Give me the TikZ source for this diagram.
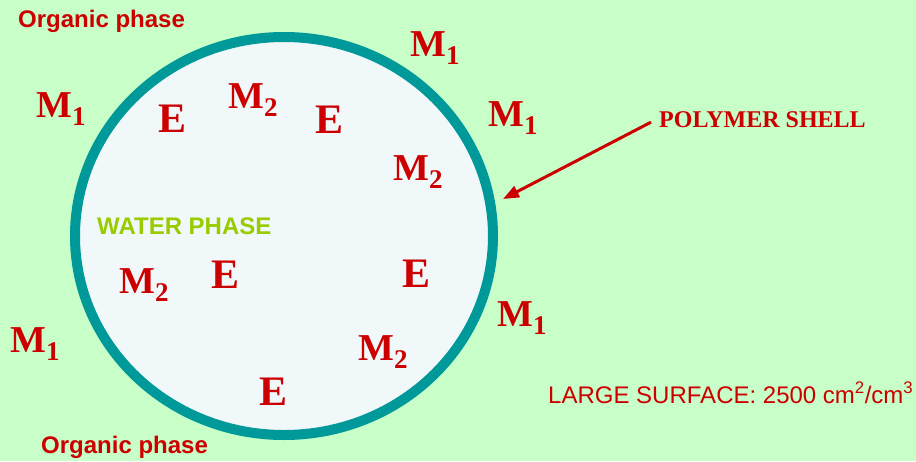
\documentclass[tikz,border=0pt]{standalone}
\usepackage{fontspec}
\setmainfont{Liberation Serif}
\setsansfont{Liberation Sans}
\usepackage{xcolor}
\usepackage{tikz}
\usetikzlibrary{arrows.meta}
\definecolor{sfondo}{HTML}{C8FFC8}
\definecolor{acqua}{HTML}{F0F8FA}
\definecolor{guscio}{HTML}{009999}
\definecolor{rosso}{HTML}{CC0000}
\definecolor{lime}{HTML}{99CC00}
\newcommand{\mono}[1]{M\raisebox{-8pt}{\fontsize{27}{27}\selectfont #1}}
\tikzset{
  lettera/.style={anchor=base west, inner sep=0pt, text=rosso, font=\bfseries\fontsize{38}{38}\selectfont},
  enzima/.style={anchor=base west, inner sep=0pt, text=rosso, font=\bfseries\fontsize{42}{42}\selectfont},
  fase/.style={anchor=base west, inner sep=0pt, font=\sffamily\bfseries\fontsize{24}{24}\selectfont}
}

\begin{document}
\begin{tikzpicture}[x=1pt, y=-1pt]
  % Sfondo
  \fill[sfondo] (0,0) rectangle (916,461);
  \useasboundingbox (0,0) rectangle (916,461);
  % Guscio
  \filldraw[fill=acqua, draw=guscio, line width=10pt] (284,236) ellipse [x radius=209, y radius=199];
  % Fasi
  \node[fase, text=rosso] (org1) at (18,27) {Organic phase};
  \node[fase, text=rosso] (org2) at (41,453) {Organic phase};
  \node[fase, text=lime] (acq) at (97,234) {WATER PHASE};
  % Monomeri
  \foreach \x/\y [count=\i] in {410/56, 488/126, 497/326, 10/352, 36/117} {
    \node[lettera] (ma\i) at (\x,\y) {\mono{1}};
  }
  \foreach \x/\y [count=\i] in {228/108, 393/180, 358/360, 119/293} {
    \node[lettera] (mb\i) at (\x,\y) {\mono{2}};
  }
  % Enzimi
  \foreach \x/\y [count=\i] in {158/132, 315/133, 211/288, 402/287, 259/405} {
    \node[enzima] (e\i) at (\x,\y) {E};
  }
  % Etichette
  \node[anchor=base west, inner sep=0pt, text=rosso, font=\bfseries\fontsize{24}{24}\selectfont] (shell) at (659,127) {POLYMER SHELL};
  \node[anchor=base west, inner sep=0pt, text=rosso, font=\sffamily\fontsize{24}{24}\selectfont] (area) at (548,403) {LARGE SURFACE: 2500 cm\textsuperscript{2}/cm\textsuperscript{3}};
  % Freccia
  \coordinate (punta) at (503,199);
  \draw[-{Triangle[length=16pt, width=12pt]}, rosso, line width=3pt] ([xshift=-8pt, yshift=-3pt]shell.west) -- (punta);
\end{tikzpicture}
\end{document}
